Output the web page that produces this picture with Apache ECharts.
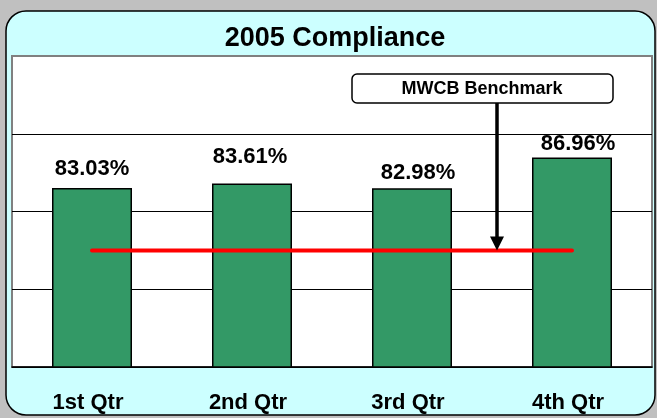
<!DOCTYPE html>
<html><head><meta charset="utf-8">
<script src="https://cdn.jsdelivr.net/npm/echarts@6/dist/echarts.min.js"></script>
<style>html,body{margin:0;padding:0;background:#C0C0C0;}#c{width:657px;height:418px;}</style>
</head><body><div id="c"></div>
<script>
const titleText = '2005 Compliance';
const categories = ['1st Qtr', '2nd Qtr', '3rd Qtr', '4th Qtr'];
const compliance = [83.03, 83.61, 82.98, 86.96];
const benchmark = [75, 75, 75, 75];
const benchmarkLabel = 'MWCB Benchmark';
const yMin = 60, yMax = 100, yStep = 10;

const FONT = '"Liberation Sans", Arial, sans-serif';
const labelShift = [[0, -3], [-2, -10], [6, 1], [6, 3]];

const chart = echarts.init(document.getElementById('c'), null, {renderer: 'canvas'});
const option = {
  backgroundColor: '#C0C0C0',
  animation: false,
  title: {
    text: titleText, left: 330, top: 20, textAlign: 'center',
    textStyle: {fontFamily: FONT, fontWeight: 'bold', fontSize: 27, color: '#000'}
  },
  grid: {
    left: 12, right: 5, top: 56, bottom: 51,
    show: true, backgroundColor: '#FFFFFF', borderColor: '#808080', borderWidth: 2
  },
  xAxis: [{
    type: 'category', data: categories, position: 'bottom',
    axisLine: {lineStyle: {color: '#000', width: 1.5}},
    axisTick: {inside: true, length: 7, lineStyle: {color: '#000', width: 1}},
    axisLabel: {fontFamily: FONT, fontWeight: 'bold', fontSize: 22, color: '#000', margin: 25, padding: [0, 8, 0, 0]}
  }, {
    type: 'category', data: categories, position: 'bottom',
    axisLine: {show: false},
    axisTick: {inside: false, length: 7, lineStyle: {color: '#000', width: 1}},
    axisLabel: {show: false}
  }],
  yAxis: {
    type: 'value', min: yMin, max: yMax, interval: yStep,
    axisLine: {show: false}, axisTick: {show: false}, axisLabel: {show: false},
    splitLine: {lineStyle: {color: ['#000', '#000', '#000', '#000', '#808080'], width: 1}}
  },
  series: [{
    type: 'bar', data: compliance.map((v, i) => ({
      value: v,
      label: {offset: labelShift[i]}
    })),
    barWidth: '50%',
    itemStyle: {color: '#339966', borderColor: '#000', borderWidth: 1.5},
    label: {
      show: true, position: 'top', distance: 5,
      formatter: p => p.value.toFixed(2) + '%',
      fontFamily: FONT, fontWeight: 'bold', fontSize: 22, color: '#000'
    },
    z: 2
  }, {
    type: 'line', data: benchmark, symbol: 'none',
    lineStyle: {color: '#FF0000', width: 4, cap: 'round'},
    z: 3
  }],
  graphic: [{
    type: 'rect', z: -100, silent: true,
    shape: {x: 6, y: 11, width: 649, height: 404, r: 20},
    style: {fill: '#CCFFFF', stroke: '#000', lineWidth: 1.5}
  }]
};
chart.setOption(option);

const yB = chart.convertToPixel({yAxisIndex: 0}, benchmark[0]);
const ax = 497;
chart.setOption({
  graphic: [option.graphic[0], {
    type: 'rect', z: 100,
    shape: {x: 352, y: 74, width: 261, height: 29, r: 5},
    style: {fill: '#FFFFFF', stroke: '#000', lineWidth: 1.5}
  }, {
    type: 'text', z: 101, x: 482, y: 89,
    style: {text: benchmarkLabel, fontFamily: FONT, fontWeight: 'bold', fontSize: 18, fill: '#000', align: 'center', verticalAlign: 'middle'}
  }, {
    type: 'line', z: 100,
    shape: {x1: ax, y1: 103, x2: ax, y2: yB - 12},
    style: {stroke: '#000', lineWidth: 3.5}
  }, {
    type: 'polygon', z: 100,
    shape: {points: [[ax - 7, yB - 14], [ax + 7, yB - 14], [ax, yB]]},
    style: {fill: '#000'}
  }]
});
</script></body></html>
